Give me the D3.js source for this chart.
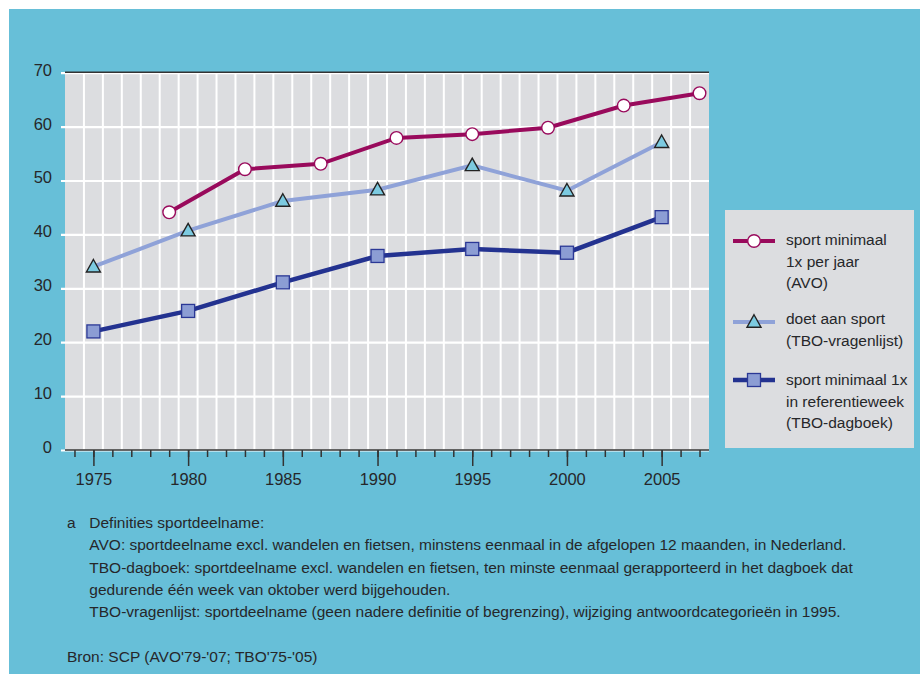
<!DOCTYPE html>
<html>
<head>
<meta charset="utf-8">
<script src="https://cdn.jsdelivr.net/npm/d3@7/dist/d3.min.js"></script>
<style>
  html, body { margin: 0; padding: 0; background: #ffffff; }
  svg { display: block; }
  text { font-family: "Liberation Sans", Arial, sans-serif; fill: #26272a; }
</style>
</head>
<body>
<svg id="chart" width="920" height="674"></svg>
<script>
// ---- data ----
const avoYears = [1979, 1983, 1987, 1991, 1995, 1999, 2003, 2007];
const avoValues = [44.1, 52.1, 53.1, 57.9, 58.6, 59.8, 63.9, 66.2];
const tboVYears = [1975, 1980, 1985, 1990, 1995, 2000, 2005];
const tboVValues = [34.0, 40.7, 46.2, 48.3, 52.8, 48.1, 57.1];
const tboDYears = [1975, 1980, 1985, 1990, 1995, 2000, 2005];
const tboDValues = [22.0, 25.8, 31.1, 36.0, 37.3, 36.6, 43.2];
const xTickLabels = [1975, 1980, 1985, 1990, 1995, 2000, 2005];
const yTickLabels = [0, 10, 20, 30, 40, 50, 60, 70];
const legendLabels = [
  ["sport minimaal", "1x per jaar", "(AVO)"],
  ["doet aan sport", "(TBO-vragenlijst)"],
  ["sport minimaal 1x", "in referentieweek", "(TBO-dagboek)"]
];
const footLines = [
  "Definities sportdeelname:",
  "AVO: sportdeelname excl. wandelen en fietsen, minstens eenmaal in de afgelopen 12 maanden, in Nederland.",
  "TBO-dagboek: sportdeelname excl. wandelen en fietsen, ten minste eenmaal gerapporteerd in het dagboek dat",
  "gedurende één week van oktober werd bijgehouden.",
  "TBO-vragenlijst: sportdeelname (geen nadere definitie of begrenzing), wijziging antwoordcategorieën in 1995."
];
const sourceText = "Bron: SCP (AVO'79-'07; TBO'75-'05)";

// ---- layout ----
const svg = d3.select("#chart");
const plot = { left: 65, right: 709, top: 72.7, bottom: 450 };
const x = d3.scaleLinear().domain([1973.5, 2007.5]).range([plot.left, plot.right]);
const y = d3.scaleLinear().domain([0, 70]).range([plot.bottom, plot.top]);

const colAVO = "#990a5c", colV = "#8fa2d8", colD = "#233290";

svg.append("rect").attr("x", 9).attr("y", 9).attr("width", 911).attr("height", 665).attr("fill", "#67bfd8");

// plot background
svg.append("rect").attr("x", plot.left).attr("y", plot.top)
  .attr("width", plot.right - plot.left).attr("height", plot.bottom - plot.top)
  .attr("fill", "#dcdde0");

// vertical grid (half years)
const vGrid = d3.range(1974.5, 2007, 1);
svg.append("g").selectAll("line").data(vGrid).join("line")
  .attr("x1", d => x(d)).attr("x2", d => x(d))
  .attr("y1", plot.top).attr("y2", plot.bottom)
  .attr("stroke", "#ffffff").attr("stroke-width", 2);

// horizontal grid
const yAxis = d3.axisLeft(y).tickValues(yTickLabels).tickSize(-(plot.right - plot.left) - 4).tickFormat(d3.format("d")).tickPadding(10);
const gy = svg.append("g").attr("transform", `translate(${plot.left},0)`).call(yAxis);
gy.select(".domain").remove();
gy.selectAll(".tick line").attr("stroke", "#ffffff").attr("stroke-width", 2.2).attr("transform", "translate(-4,0)")
  .attr("x1", 0).attr("x2", plot.right - plot.left + 4);
gy.selectAll(".tick text").attr("font-size", 16.5).attr("font-family", "Liberation Sans, Arial, sans-serif")
  .attr("fill", "#26272a").attr("x", -13).attr("dy", "0.15em");

// top dark line
svg.append("line").attr("x1", plot.left).attr("x2", plot.right).attr("y1", plot.top - 0.5).attr("y2", plot.top - 0.5)
  .attr("stroke", "#333").attr("stroke-width", 1.6);

// x axis
const xAxisMinor = d3.axisBottom(x).tickValues(d3.range(1974, 2008)).tickSize(7).tickFormat("");
const gxm = svg.append("g").attr("transform", `translate(0,${plot.bottom})`).call(xAxisMinor);
gxm.select(".domain").attr("stroke", "#333").attr("stroke-width", 1.6).attr("d", `M${plot.left},0H${plot.right}`);
gxm.selectAll(".tick line").attr("stroke", "#333").attr("stroke-width", 1.5);
const xAxisMajor = d3.axisBottom(x).tickValues(xTickLabels).tickSize(16).tickFormat(d3.format("d")).tickPadding(7);
const gx = svg.append("g").attr("transform", `translate(0,${plot.bottom})`).call(xAxisMajor);
gx.select(".domain").remove();
gx.selectAll(".tick line").attr("stroke", "#333").attr("stroke-width", 1.5);
gx.selectAll(".tick text").attr("font-size", 16.5).attr("font-family", "Liberation Sans, Arial, sans-serif")
  .attr("fill", "#26272a");

// lines
const line = d3.line().x(d => x(d[0])).y(d => y(d[1]));
const dataD = tboDYears.map((d, i) => [d, tboDValues[i]]);
const dataV = tboVYears.map((d, i) => [d, tboVValues[i]]);
const dataA = avoYears.map((d, i) => [d, avoValues[i]]);

svg.append("path").datum(dataD).attr("d", line).attr("fill", "none").attr("stroke", colD).attr("stroke-width", 4.5);
svg.append("path").datum(dataV).attr("d", line).attr("fill", "none").attr("stroke", colV).attr("stroke-width", 4);
svg.append("path").datum(dataA).attr("d", line).attr("fill", "none").attr("stroke", colAVO).attr("stroke-width", 4);

function square(g, cx, cy) {
  g.append("rect").attr("x", cx - 6.5).attr("y", cy - 6.5).attr("width", 13).attr("height", 13)
    .attr("fill", "#8c9dd4").attr("stroke", "#2b3896").attr("stroke-width", 1.3);
}
function tri(g, cx, cy) {
  const h = 12.5, w = 14;
  g.append("path").attr("d", `M${cx},${cy - h * 0.58}L${cx + w / 2},${cy + h * 0.42}L${cx - w / 2},${cy + h * 0.42}Z`)
    .attr("fill", "#7ccae0").attr("stroke", "#222").attr("stroke-width", 1.4).attr("stroke-linejoin", "miter");
}
function circ(g, cx, cy) {
  g.append("circle").attr("cx", cx).attr("cy", cy).attr("r", 6.3)
    .attr("fill", "#ffffff").attr("stroke", colAVO).attr("stroke-width", 1.4);
}
const gm = svg.append("g");
dataD.forEach(d => square(gm, x(d[0]), y(d[1])));
dataV.forEach(d => tri(gm, x(d[0]), y(d[1])));
dataA.forEach(d => circ(gm, x(d[0]), y(d[1])));

// legend
svg.append("rect").attr("x", 725).attr("y", 210).attr("width", 189).attr("height", 238).attr("fill", "#dcdde0");
const lg = svg.append("g");
const legFont = 15.5;
const legTextX = 786;
const groups = [
  { base: 245, sym: 241, color: colAVO, w: 4, mark: circ },
  { base: 324, sym: 322, color: colV, w: 4, mark: tri },
  { base: 385, sym: 380, color: colD, w: 4.5, mark: square }
];
groups.forEach((gp, i) => {
  lg.append("line").attr("x1", 733).attr("x2", 775).attr("y1", gp.sym).attr("y2", gp.sym)
    .attr("stroke", gp.color).attr("stroke-width", gp.w);
  gp.mark(lg, 754, gp.sym);
  legendLabels[i].forEach((t, j) => {
    lg.append("text").attr("x", legTextX).attr("y", gp.base + j * 21.5).attr("font-size", legFont).text(t);
  });
});

// footnote
const fg = svg.append("g");
fg.append("text").attr("x", 67).attr("y", 528.3).attr("font-size", 15.5).text("a");
footLines.forEach((t, i) => {
  fg.append("text").attr("x", 89.3).attr("y", 528.3 + i * 22.1).attr("font-size", 15.5).text(t);
});
fg.append("text").attr("x", 67).attr("y", 662.3).attr("font-size", 15.5).text(sourceText);
</script>
</body>
</html>
